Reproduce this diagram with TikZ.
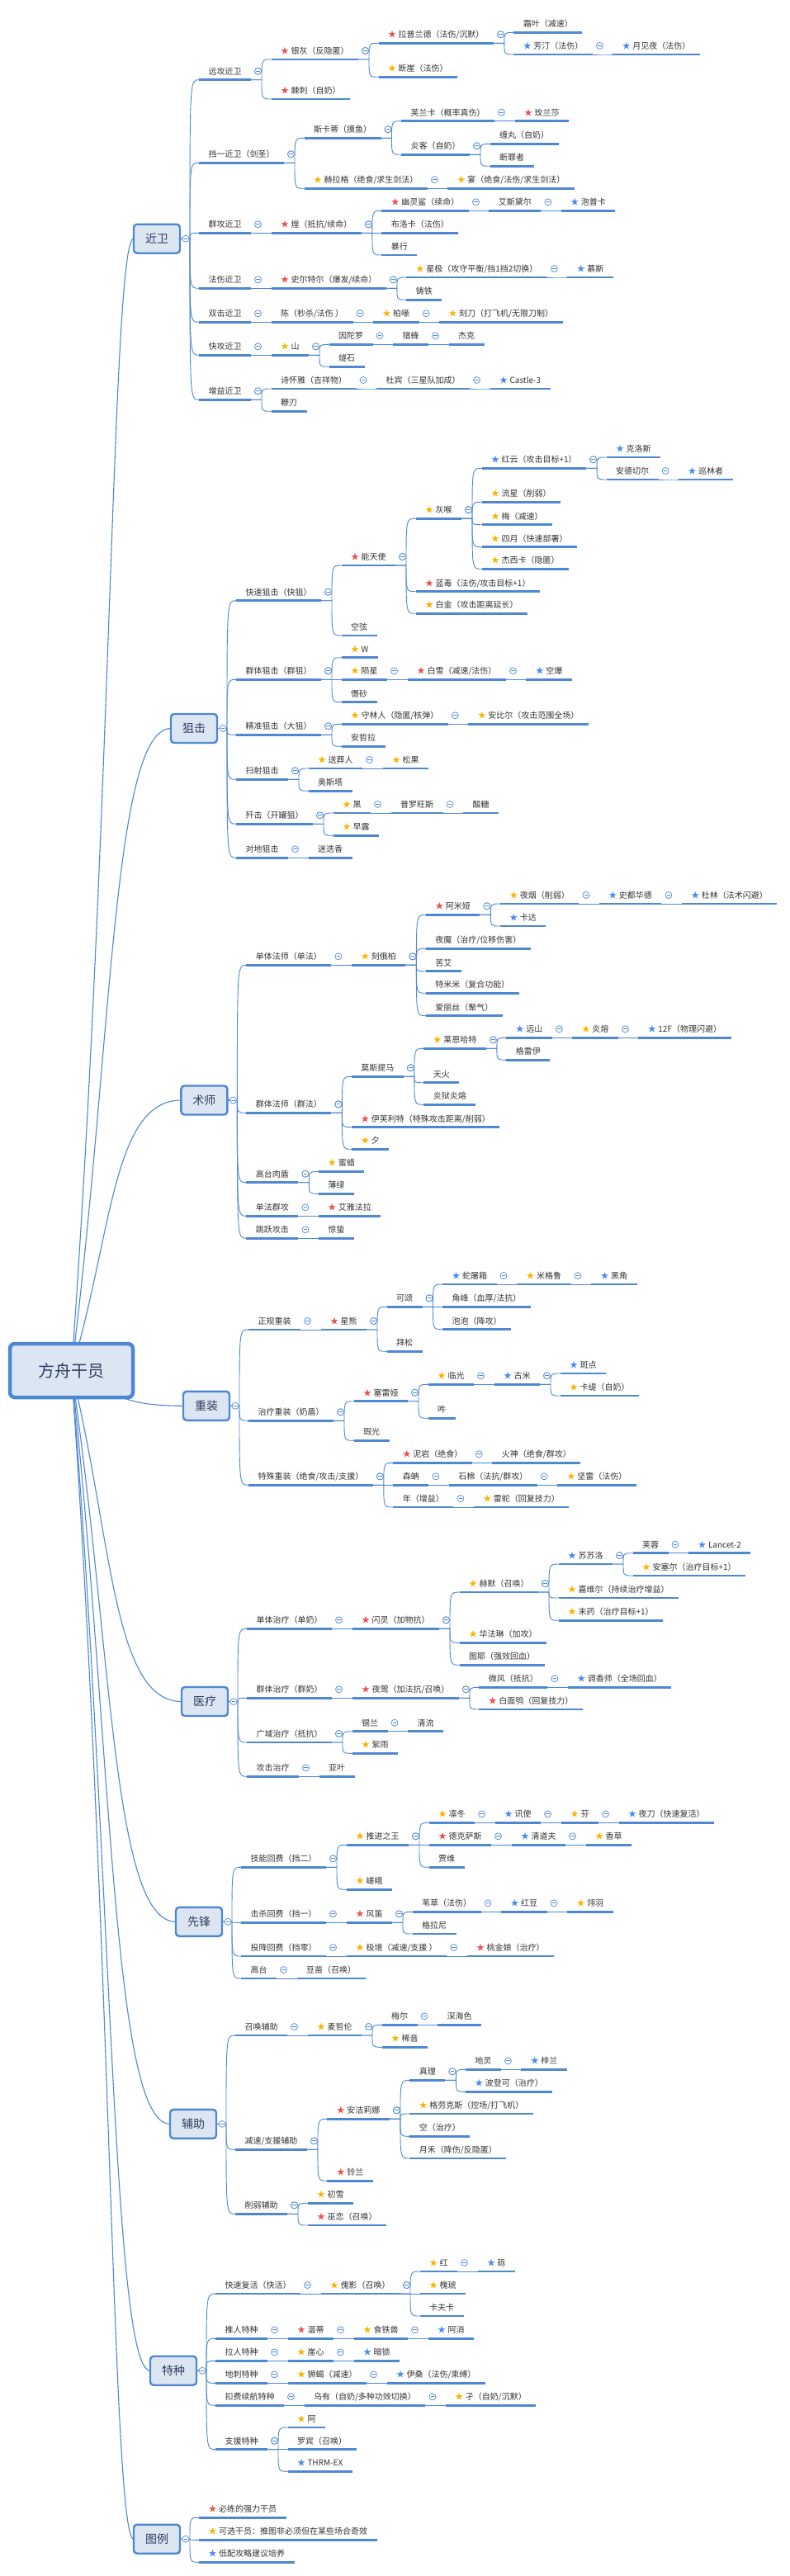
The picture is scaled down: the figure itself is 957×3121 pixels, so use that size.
\documentclass[tikz,border=0pt]{standalone}
\usepackage{fontspec}
\setmainfont{Noto Sans CJK SC}
\usetikzlibrary{calc}
\definecolor{lc}{RGB}{78,135,210}
\definecolor{tc}{RGB}{51,51,51}
\definecolor{bc}{RGB}{45,62,95}
\definecolor{bf}{RGB}{220,230,242}
\definecolor{sr}{RGB}{235,80,80}
\definecolor{sy}{RGB}{250,180,0}
\definecolor{sb}{RGB}{70,140,240}
\pgfdeclarelayer{front}
\pgfsetlayers{main,front}
\newcommand{\SR}{\textcolor{sr}{★}\hspace{2.5pt}}
\newcommand{\SY}{\textcolor{sy}{★}\hspace{2.5pt}}
\newcommand{\SB}{\textcolor{sb}{★}\hspace{2.5pt}}
\tikzset{
 nt/.style={anchor=base west, yshift=6.5pt, inner xsep=11.5pt, inner ysep=0pt, outer sep=0pt, text=tc, font=\fontsize{10pt}{12pt}\selectfont},
 ul/.style={draw=lc, line width=2.6pt},
 cn/.style={draw=lc, line width=0.9pt},
 rc/.style={draw=lc, line width=1.1pt},
 cc/.style={circle, draw=lc, fill=white, line width=0.7pt, minimum size=8pt, inner sep=0pt,
   path picture={\draw[lc,line width=0.7pt] ([xshift=-2.2pt]path picture bounding box.center) -- ([xshift=2.2pt]path picture bounding box.center);}},
 cat/.style={draw=lc, line width=2.4pt, fill=bf, rounded corners=4pt, minimum width=56pt, minimum height=35pt, inner sep=0pt, outer sep=0pt, text=bc, font=\fontsize{14pt}{16pt}\selectfont, anchor=east},
 rootbox/.style={draw=lc, line width=4.5pt, fill=bf, rounded corners=6pt, minimum width=149pt, minimum height=65pt, inner sep=0pt, text=bc, font=\fontsize{20pt}{22pt}\selectfont},
}
% node whose parent is a node
\newcommand{\MN}[5]{%
 \path let \p1=(#2e) in (\x1+24.5pt,-#3pt) coordinate (#1s);
 \node[nt] (#1) at (#1s) {#4#5};
 \path let \p1=(#1.east), \p2=(#1s) in (\x1,\y2) coordinate (#1e);
 \draw[ul] (#1s) -- (#1e);
 \draw[cn] let \p1=(#2e), \p2=(#1s) in (\p1) -- (\x1+13pt,\y1) .. controls (\x1+13pt,\y2) .. (\p2);
 \begin{pgfonlayer}{front}\path (#2e) ++(8.5pt,10.5pt) node[cc] {};\end{pgfonlayer}
}
% node whose parent is a category box
\newcommand{\MC}[5]{%
 \path let \p1=(#2e) in (\x1+23pt,-#3pt) coordinate (#1s);
 \node[nt] (#1) at (#1s) {#4#5};
 \path let \p1=(#1.east), \p2=(#1s) in (\x1,\y2) coordinate (#1e);
 \draw[ul] (#1s) -- (#1e);
 \draw[cn] let \p1=(#2e), \p2=(#1s) in (\p1) -- (\x1+12pt,\y1) .. controls (\x1+12pt,\y2) .. (\p2);
}
% category box
\newcommand{\CAT}[4]{%
 \coordinate (#1e) at (#2pt,-#3pt);
 \begin{pgfonlayer}{front}
 \node[cat] (#1box) at (#1e) {#4};
 \node[cc] at ([xshift=7pt]#1e) {};
 \end{pgfonlayer}
 \draw[rc] let \p1=(root.center), \p2=(#1box.west) in (\p1) .. controls (136pt,{0.5*\y1+0.5*\y2}) and (136pt,\y2) .. (\p2);
}
\begin{document}
\begin{tikzpicture}
\fill[white] (0,0) rectangle (957pt,-3121pt);
\useasboundingbox (0,0) rectangle (957pt,-3121pt);
\begin{pgfonlayer}{front}
\node[rootbox] (root) at (86.5pt,-1660.5pt) {方舟干员};
\end{pgfonlayer}
\CAT{jw}{218}{289.2}{近卫}
\CAT{jj}{263}{882.5}{狙击}
\CAT{js}{275.4}{1333}{术师}
\CAT{zz}{278}{1703.3}{重装}
\CAT{yl}{276}{2061.5}{医疗}
\CAT{xf}{269}{2328.3}{先锋}
\CAT{fz}{262}{2573.3}{辅助}
\CAT{tz}{238}{2872.2}{特种}
\CAT{tl}{218}{3076.2}{图例}
% ---------------- 近卫
\MC{a1}{jw}{96.7}{}{远攻近卫}
\MN{a11}{a1}{72}{\SR}{银灰（反隐匿）}
\MN{a111}{a11}{52.3}{\SR}{拉普兰德（法伤/沉默）}
\MN{a1111}{a111}{39.3}{}{霜叶（减速）}
\MN{a1112}{a111}{66}{\SB}{芳汀（法伤）}
\MN{a11121}{a1112}{66}{\SB}{月见夜（法伤）}
\MN{a112}{a11}{93.3}{\SY}{断崖（法伤）}
\MN{a12}{a1}{120}{\SR}{棘刺（自奶）}
\MC{a2}{jw}{197.3}{}{挡一近卫（剑圣）}
\MN{a21}{a2}{167.3}{}{斯卡蒂（摸鱼）}
\MN{a211}{a21}{146.7}{}{芙兰卡（概率真伤）}
\MN{a2111}{a211}{146.7}{\SR}{玫兰莎}
\MN{a212}{a21}{187.3}{}{炎客（自奶）}
\MN{a2121}{a212}{174.3}{}{缠丸（自奶）}
\MN{a2122}{a212}{201.3}{}{断罪者}
\MN{a22}{a2}{228.3}{\SY}{赫拉格（绝食/求生剑法）}
\MN{a221}{a22}{228.3}{\SY}{宴（绝食/法伤/求生剑法）}
\MC{a3}{jw}{282.3}{}{群攻近卫}
\MN{a31}{a3}{282.3}{\SR}{煌（抵抗/续命）}
\MN{a311}{a31}{255.3}{\SR}{幽灵鲨（续命）}
\MN{a3111}{a311}{255.3}{}{艾斯黛尔}
\MN{a31111}{a3111}{255.3}{\SB}{泡普卡}
\MN{a312}{a31}{282.3}{}{布洛卡（法伤）}
\MN{a313}{a31}{309}{}{暴行}
\MC{a4}{jw}{349.3}{}{法伤近卫}
\MN{a41}{a4}{349.3}{\SR}{史尔特尔（爆发/续命）}
\MN{a411}{a41}{336}{\SY}{星极（攻守平衡/挡1挡2切换）}
\MN{a4111}{a411}{336}{\SB}{慕斯}
\MN{a412}{a41}{363.3}{}{铸铁}
\MC{a5}{jw}{390.3}{}{双击近卫}
\MN{a51}{a5}{390.3}{}{陈（秒杀/法伤 ）}
\MN{a511}{a51}{390.3}{\SY}{柏喙}
\MN{a5111}{a511}{390.3}{\SY}{刻刀（打飞机/无限刀制）}
\MC{a6}{jw}{430.3}{}{快攻近卫}
\MN{a61}{a6}{430.3}{\SY}{山}
\MN{a611}{a61}{417.3}{}{因陀罗}
\MN{a6111}{a611}{417.3}{}{猎蜂}
\MN{a61111}{a6111}{417.3}{}{杰克}
\MN{a612}{a61}{444.3}{}{燧石}
\MC{a7}{jw}{484.3}{}{增益近卫}
\MN{a71}{a7}{471}{}{诗怀雅（吉祥物）}
\MN{a711}{a71}{471}{}{杜宾（三星队加成）}
\MN{a7111}{a711}{471}{\SB}{Castle-3}
\MN{a72}{a7}{498.3}{}{鞭刃}
% ---------------- 狙击
\MC{b1}{jj}{727.7}{}{快速狙击（快狙）}
\MN{b11}{b1}{685}{\SR}{能天使}
\MN{b111}{b11}{628.3}{\SY}{灰喉}
\MN{b1111}{b111}{567.3}{\SB}{红云（攻击目标+1）}
\MN{b11111}{b1111}{554}{\SB}{克洛斯}
\MN{b11112}{b1111}{581}{}{安德切尔}
\MN{b111121}{b11112}{581}{\SB}{巡林者}
\MN{b1112}{b111}{608.3}{\SY}{流星（削弱）}
\MN{b1113}{b111}{635.7}{\SY}{梅（减速）}
\MN{b1114}{b111}{662.7}{\SY}{四月（快速部署）}
\MN{b1115}{b111}{689.3}{\SY}{杰西卡（隐匿）}
\MN{b112}{b11}{716.7}{\SR}{蓝毒（法伤/攻击目标+1）}
\MN{b113}{b11}{743.3}{\SY}{白金（攻击距离延长）}
\MN{b12}{b1}{770}{}{空弦}
\MC{b2}{jj}{823.3}{}{群体狙击（群狙）}
\MN{b21}{b2}{796.7}{\SY}{W}
\MN{b22}{b2}{823.3}{\SY}{陨星}
\MN{b221}{b22}{823.3}{\SR}{白雪（减速/法伤）}
\MN{b2211}{b221}{823.3}{\SB}{空爆}
\MN{b23}{b2}{850.7}{}{慑砂}
\MC{b3}{jj}{890.3}{}{精准狙击（大狙）}
\MN{b31}{b3}{877.3}{\SY}{守林人（隐匿/核弹）}
\MN{b311}{b31}{877.3}{\SY}{安比尔（攻击范围全场）}
\MN{b32}{b3}{904.3}{}{安哲拉}
\MC{b4}{jj}{944.3}{}{扫射狙击}
\MN{b41}{b4}{931}{\SY}{送葬人}
\MN{b411}{b41}{931}{\SY}{松果}
\MN{b42}{b4}{958.3}{}{奥斯塔}
\MC{b5}{jj}{998.3}{}{歼击（开罐狙）}
\MN{b51}{b5}{985}{\SY}{黑}
\MN{b511}{b51}{985}{}{普罗旺斯}
\MN{b5111}{b511}{985}{}{酸糖}
\MN{b52}{b5}{1012.3}{\SY}{早露}
\MC{b6}{jj}{1039.3}{}{对地狙击}
\MN{b61}{b6}{1039.3}{}{迷迭香}
% ---------------- 术师
\MC{c1}{js}{1169.3}{}{单体法师（单法）}
\MN{c11}{c1}{1169.3}{\SY}{刻俄柏}
\MN{c111}{c11}{1108.3}{\SR}{阿米娅}
\MN{c1111}{c111}{1095}{\SY}{夜烟（削弱）}
\MN{c11111}{c1111}{1095}{\SB}{史都华德}
\MN{c111111}{c11111}{1095}{\SB}{杜林（法术闪避）}
\MN{c1112}{c111}{1122}{\SB}{卡达}
\MN{c112}{c11}{1149.3}{}{夜魔（治疗/位移伤害）}
\MN{c113}{c11}{1176.7}{}{苦艾}
\MN{c114}{c11}{1203.3}{}{特米米（复合功能）}
\MN{c115}{c11}{1230.7}{}{爱丽丝（聚气）}
\MC{c2}{js}{1348.3}{}{群体法师（群法）}
\MN{c21}{c2}{1304.3}{}{莫斯提马}
\MN{c211}{c21}{1270.3}{\SY}{莱恩哈特}
\MN{c2111}{c211}{1257.3}{\SB}{远山}
\MN{c21111}{c2111}{1257.3}{\SY}{炎熔}
\MN{c211111}{c21111}{1257.3}{\SB}{12F（物理闪避）}
\MN{c2112}{c211}{1284.3}{}{格雷伊}
\MN{c212}{c21}{1311.7}{}{天火}
\MN{c213}{c21}{1338.3}{}{炎狱炎熔}
\MN{c22}{c2}{1365.7}{\SR}{伊芙利特（特殊攻击距离/削弱）}
\MN{c23}{c2}{1392.3}{\SY}{夕}
\MC{c3}{js}{1432.7}{}{高台肉盾}
\MN{c31}{c3}{1419.3}{\SY}{蜜蜡}
\MN{c32}{c3}{1446.3}{}{薄绿}
\MC{c4}{js}{1473.3}{}{单法群攻}
\MN{c41}{c4}{1473.3}{\SR}{艾雅法拉}
\MC{c5}{js}{1500.3}{}{跳跃攻击}
\MN{c51}{c5}{1500.3}{}{惊蛰}
% ---------------- 重装
\MC{d1}{zz}{1611}{}{正规重装}
\MN{d11}{d1}{1611}{\SR}{星熊}
\MN{d111}{d11}{1583.3}{}{可颂}
\MN{d1111}{d111}{1556}{\SB}{蛇屠箱}
\MN{d11111}{d1111}{1556}{\SY}{米格鲁}
\MN{d111111}{d11111}{1556}{\SB}{黑角}
\MN{d1112}{d111}{1583.3}{}{角峰（血厚/法抗）}
\MN{d1113}{d111}{1610.7}{}{泡泡（降攻）}
\MN{d112}{d11}{1637.3}{}{拜松}
\MC{d2}{zz}{1721.3}{}{治疗重装（奶盾）}
\MN{d21}{d2}{1697.7}{\SR}{塞雷娅}
\MN{d211}{d21}{1677.3}{\SY}{临光}
\MN{d2111}{d211}{1677.3}{\SB}{古米}
\MN{d21111}{d2111}{1664}{\SB}{斑点}
\MN{d21112}{d2111}{1691}{\SY}{卡缇（自奶）}
\MN{d212}{d21}{1718.3}{}{吽}
\MN{d22}{d2}{1745.3}{}{瑕光}
\MC{d3}{zz}{1799.3}{}{特殊重装（绝食/攻击/支援）}
\MN{d31}{d3}{1772.3}{\SR}{泥岩（绝食）}
\MN{d311}{d31}{1772.3}{}{火神（绝食/群攻）}
\MN{d32}{d3}{1799.3}{}{森蚺}
\MN{d321}{d32}{1799.3}{}{石棉（法抗/群攻）}
\MN{d3211}{d321}{1799.3}{\SY}{坚雷（法伤）}
\MN{d33}{d3}{1826}{}{年（增益）}
\MN{d331}{d33}{1826}{\SY}{雷蛇（回复技力）}
% ---------------- 医疗
\MC{e1}{yl}{1973.3}{}{单体治疗（单奶）}
\MN{e11}{e1}{1973.3}{\SR}{闪灵（加物抗）}
\MN{e111}{e11}{1929}{\SY}{赫默（召唤）}
\MN{e1111}{e111}{1895}{\SB}{苏苏洛}
\MN{e11111}{e1111}{1881.7}{}{芙蓉}
\MN{e111111}{e11111}{1881.7}{\SB}{Lancet-2}
\MN{e11112}{e1111}{1909}{\SY}{安塞尔（治疗目标+1）}
\MN{e1112}{e111}{1936}{\SY}{嘉维尔（持续治疗增益）}
\MN{e1113}{e111}{1963.3}{\SY}{末药（治疗目标+1）}
\MN{e112}{e11}{1990.3}{\SY}{华法琳（加攻）}
\MN{e113}{e11}{2017.3}{}{图耶（强效回血）}
\MC{e2}{yl}{2057.3}{}{群体治疗（群奶）}
\MN{e21}{e2}{2057.3}{\SR}{夜莺（加法抗/召唤）}
\MN{e211}{e21}{2044.3}{}{微风（抵抗）}
\MN{e2111}{e211}{2044.3}{\SB}{调香师（全场回血）}
\MN{e212}{e21}{2071}{\SR}{白面鸮（回复技力）}
\MC{e3}{yl}{2111}{}{广域治疗（抵抗）}
\MN{e31}{e3}{2097.7}{}{锡兰}
\MN{e311}{e31}{2097.7}{}{清流}
\MN{e32}{e3}{2124.3}{\SY}{絮雨}
\MC{e4}{yl}{2152.3}{}{攻击治疗}
\MN{e41}{e4}{2152.3}{}{亚叶}
% ---------------- 先锋
\MC{f1}{xf}{2262.3}{}{技能回费（挡二）}
\MN{f11}{f1}{2235.3}{\SY}{推进之王}
\MN{f111}{f11}{2208.3}{\SY}{凛冬}
\MN{f1111}{f111}{2208.3}{\SB}{讯使}
\MN{f11111}{f1111}{2208.3}{\SY}{芬}
\MN{f111111}{f11111}{2208.3}{\SB}{夜刀（快速复活）}
\MN{f112}{f11}{2235.3}{\SR}{德克萨斯}
\MN{f1121}{f112}{2235.3}{\SB}{清道夫}
\MN{f11211}{f1121}{2235.3}{\SY}{香草}
\MN{f113}{f11}{2262.3}{}{贾维}
\MN{f12}{f1}{2289.3}{\SY}{嵯峨}
\MC{f2}{xf}{2329.3}{}{击杀回费（挡一）}
\MN{f21}{f2}{2329.3}{\SR}{风笛}
\MN{f211}{f21}{2316.3}{}{苇草（法伤）}
\MN{f2111}{f211}{2316.3}{\SB}{红豆}
\MN{f21111}{f2111}{2316.3}{\SY}{翎羽}
\MN{f212}{f21}{2343}{}{格拉尼}
\MC{f3}{xf}{2370}{}{投降回费（挡零）}
\MN{f31}{f3}{2370}{\SY}{极境（减速/支援 ）}
\MN{f311}{f31}{2370}{\SR}{桃金娘（治疗）}
\MC{f4}{xf}{2397}{}{高台}
\MN{f41}{f4}{2397}{}{豆苗（召唤）}
% ---------------- 辅助
\MC{g1}{fz}{2466}{}{召唤辅助}
\MN{g11}{g1}{2466}{\SY}{麦哲伦}
\MN{g111}{g11}{2453.3}{}{梅尔}
\MN{g1111}{g111}{2453.3}{}{深海色}
\MN{g112}{g11}{2480.3}{\SY}{稀音}
\MC{g2}{fz}{2604.3}{}{减速/支援辅助}
\MN{g21}{g2}{2567.3}{\SR}{安洁莉娜}
\MN{g211}{g21}{2520.3}{}{真理}
\MN{g2111}{g211}{2507.3}{}{地灵}
\MN{g21111}{g2111}{2507.3}{\SB}{梓兰}
\MN{g2112}{g211}{2534.3}{\SB}{波登可（治疗）}
\MN{g212}{g21}{2561}{\SY}{格劳克斯（控场/打飞机）}
\MN{g213}{g21}{2588.3}{}{空（治疗）}
\MN{g214}{g21}{2615}{}{月禾（降伤/反隐匿）}
\MN{g22}{g2}{2642.3}{\SR}{铃兰}
\MC{g3}{fz}{2682.3}{}{削弱辅助}
\MN{g31}{g3}{2669.3}{\SY}{初雪}
\MN{g32}{g3}{2696}{\SR}{巫恋（召唤）}
% ---------------- 特种
\MC{h1}{tz}{2779}{}{快速复活（快活）}
\MN{h11}{h1}{2779}{\SY}{傀影（召唤）}
\MN{h111}{h11}{2752}{\SY}{红}
\MN{h1111}{h111}{2752}{\SB}{砾}
\MN{h112}{h11}{2779}{\SY}{槐琥}
\MN{h113}{h11}{2806}{}{卡夫卡}
\MC{h2}{tz}{2833.3}{}{推人特种}
\MN{h21}{h2}{2833.3}{\SR}{温蒂}
\MN{h211}{h21}{2833.3}{\SY}{食铁兽}
\MN{h2111}{h211}{2833.3}{\SB}{阿消}
\MC{h3}{tz}{2860.3}{}{拉人特种}
\MN{h31}{h3}{2860.3}{\SY}{崖心}
\MN{h311}{h31}{2860.3}{\SB}{暗锁}
\MC{h4}{tz}{2887.3}{}{地刺特种}
\MN{h41}{h4}{2887.3}{\SY}{狮蝎（减速）}
\MN{h411}{h41}{2887.3}{\SB}{伊桑（法伤/束缚）}
\MC{h5}{tz}{2914.3}{}{扣费续航特种}
\MN{h51}{h5}{2914.3}{}{乌有（自奶/多种功效切换）}
\MN{h511}{h51}{2914.3}{\SY}{孑（自奶/沉默）}
\MC{h6}{tz}{2967.7}{}{支援特种}
\MN{h61}{h6}{2941}{\SY}{阿}
\MN{h62}{h6}{2967.7}{}{罗宾（召唤）}
\MN{h63}{h6}{2994.3}{\SB}{THRM-EX}
% ---------------- 图例
\MC{i1}{tl}{3050.3}{\SR}{必练的强力干员}
\MC{i2}{tl}{3077.3}{\SY}{可选干员：推图非必须但在某些场合奇效}
\MC{i3}{tl}{3104.3}{\SB}{低配攻略建议培养}
\end{tikzpicture}
\end{document}
